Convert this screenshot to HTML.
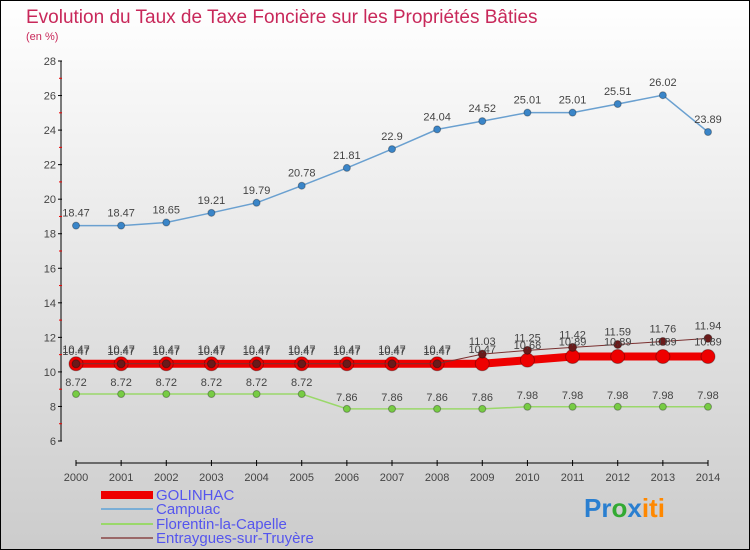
<!DOCTYPE html>
<html><head><meta charset="utf-8"><style>
body{margin:0}
#c{width:748px;height:548px;border:1px solid #000;background:linear-gradient(#fff,#ccc);position:relative;font-family:"Liberation Sans",sans-serif;overflow:hidden}
</style></head><body>
<div id="c">
<svg id="s" width="748" height="548" xmlns="http://www.w3.org/2000/svg" style="position:absolute;left:0;top:0">
<text x="25" y="22" font-size="19" fill="#c8285a">Evolution du Taux de Taxe Foncière sur les Propriétés Bâties</text>
<text x="25" y="39" font-size="11" fill="#c8285a">(en %)</text>
<line x1="60" y1="60" x2="60" y2="440" stroke="#000"/>
<line x1="75" y1="462" x2="707" y2="462" stroke="#000"/>
<g id="ax"></g><g id="ser"></g>
<g font-size="15" fill="#5555ee">
<rect x="100" y="490" width="52" height="8" fill="#e00"/>
<text x="155" y="499">GOLINHAC</text>
<line x1="100" y1="508" x2="152" y2="508" stroke="#7aaed6" stroke-width="2"/>
<text x="155" y="513">Campuac</text>
<line x1="100" y1="523" x2="152" y2="523" stroke="#9ad86a" stroke-width="2"/>
<text x="155" y="528">Florentin-la-Capelle</text>
<line x1="100" y1="537" x2="152" y2="537" stroke="#9a6868" stroke-width="2"/>
<text x="155" y="542">Entraygues-sur-Truyère</text>
</g>
<text x="583" y="516" font-size="26" font-weight="bold"><tspan fill="#2a7fd0">Pr</tspan><tspan fill="#3a3">o</tspan><tspan fill="#2a7fd0">x</tspan><tspan fill="#f80">iti</tspan></text>
</svg></div>
<script>
const years=[2000,2001,2002,2003,2004,2005,2006,2007,2008,2009,2010,2011,2012,2013,2014];
const yTicks=[6,8,10,12,14,16,18,20,22,24,26,28];
const golinhac=[10.47,10.47,10.47,10.47,10.47,10.47,10.47,10.47,10.47,10.47,10.68,10.89,10.89,10.89,10.89];
const campuac=[18.47,18.47,18.65,19.21,19.79,20.78,21.81,22.9,24.04,24.52,25.01,25.01,25.51,26.02,23.89];
const florentin=[8.72,8.72,8.72,8.72,8.72,8.72,7.86,7.86,7.86,7.86,7.98,7.98,7.98,7.98,7.98];
const entraygues=[10.47,10.47,10.47,10.47,10.47,10.47,10.47,10.47,10.47,11.03,11.25,11.42,11.59,11.76,11.94];
const NS="http://www.w3.org/2000/svg";
const xs=i=>75+i*(632/14);
const ys=v=>440-(v-6)*(380/22);
function mk(t,a,p){const e=document.createElementNS(NS,t);for(const k in a)e.setAttribute(k,a[k]);p.appendChild(e);return e;}
const ax=document.getElementById('ax');
yTicks.forEach(v=>{
 const t=mk('text',{x:55,y:ys(v)+4,'font-size':11,fill:'#444','text-anchor':'end'},ax);t.textContent=v;
 
 
 mk('line',{x1:57,x2:61,y1:ys(v),y2:ys(v),stroke:'#000'},ax);
 if(v<28)mk('line',{x1:58,x2:61,y1:ys(v+1),y2:ys(v+1),stroke:'#e00'},ax);
});
years.forEach((y,i)=>{
 mk('line',{x1:xs(i),x2:xs(i),y1:459,y2:465,stroke:'#000'},ax);
 const t=mk('text',{x:xs(i),y:480,'font-size':11,fill:'#444','text-anchor':'middle'},ax);t.textContent=y;
 
 
});
const ser=document.getElementById('ser');
function draw(data,name,col,w,r,dot,lab,dy){
 const g=mk('g',{},ser);
 
 
 mk('polyline',{points:data.map((v,i)=>xs(i)+','+ys(v)).join(' '),fill:'none',stroke:col,'stroke-width':w},g);
 data.forEach((v,i)=>{
  const c=mk('circle',{cx:xs(i),cy:ys(v),r:r,fill:dot,stroke:'rgba(0,0,0,0.3)'},g);
  
  
  if(lab){const t=mk('text',{x:xs(i),y:ys(v)+dy,'font-size':11,fill:'#444','text-anchor':'middle'},g);t.textContent=v;
  
  }
 });
}
draw(florentin,'florentin','#9ad86a',1.5,3.5,'#7c4','',0);
florentin.forEach((v,i)=>{const t=mk('text',{x:xs(i),y:ys(v)-8,'font-size':11,fill:'#444','text-anchor':'middle'},ser);t.textContent=v;});
draw(campuac,'campuac','#6aa0d0',1.5,3.5,'#3a85c8',true,-9);
draw(golinhac,'golinhac','#e00',8,7,'#e00',false,0);
draw(entraygues,'entraygues','#7a3030',1,4,'#6a1a1a',true,-9);
golinhac.forEach((v,i)=>{const t=mk('text',{x:xs(i),y:ys(v)-11,'font-size':11,fill:'#444','text-anchor':'middle'},ser);t.textContent=v;});
</script>
</body></html>
